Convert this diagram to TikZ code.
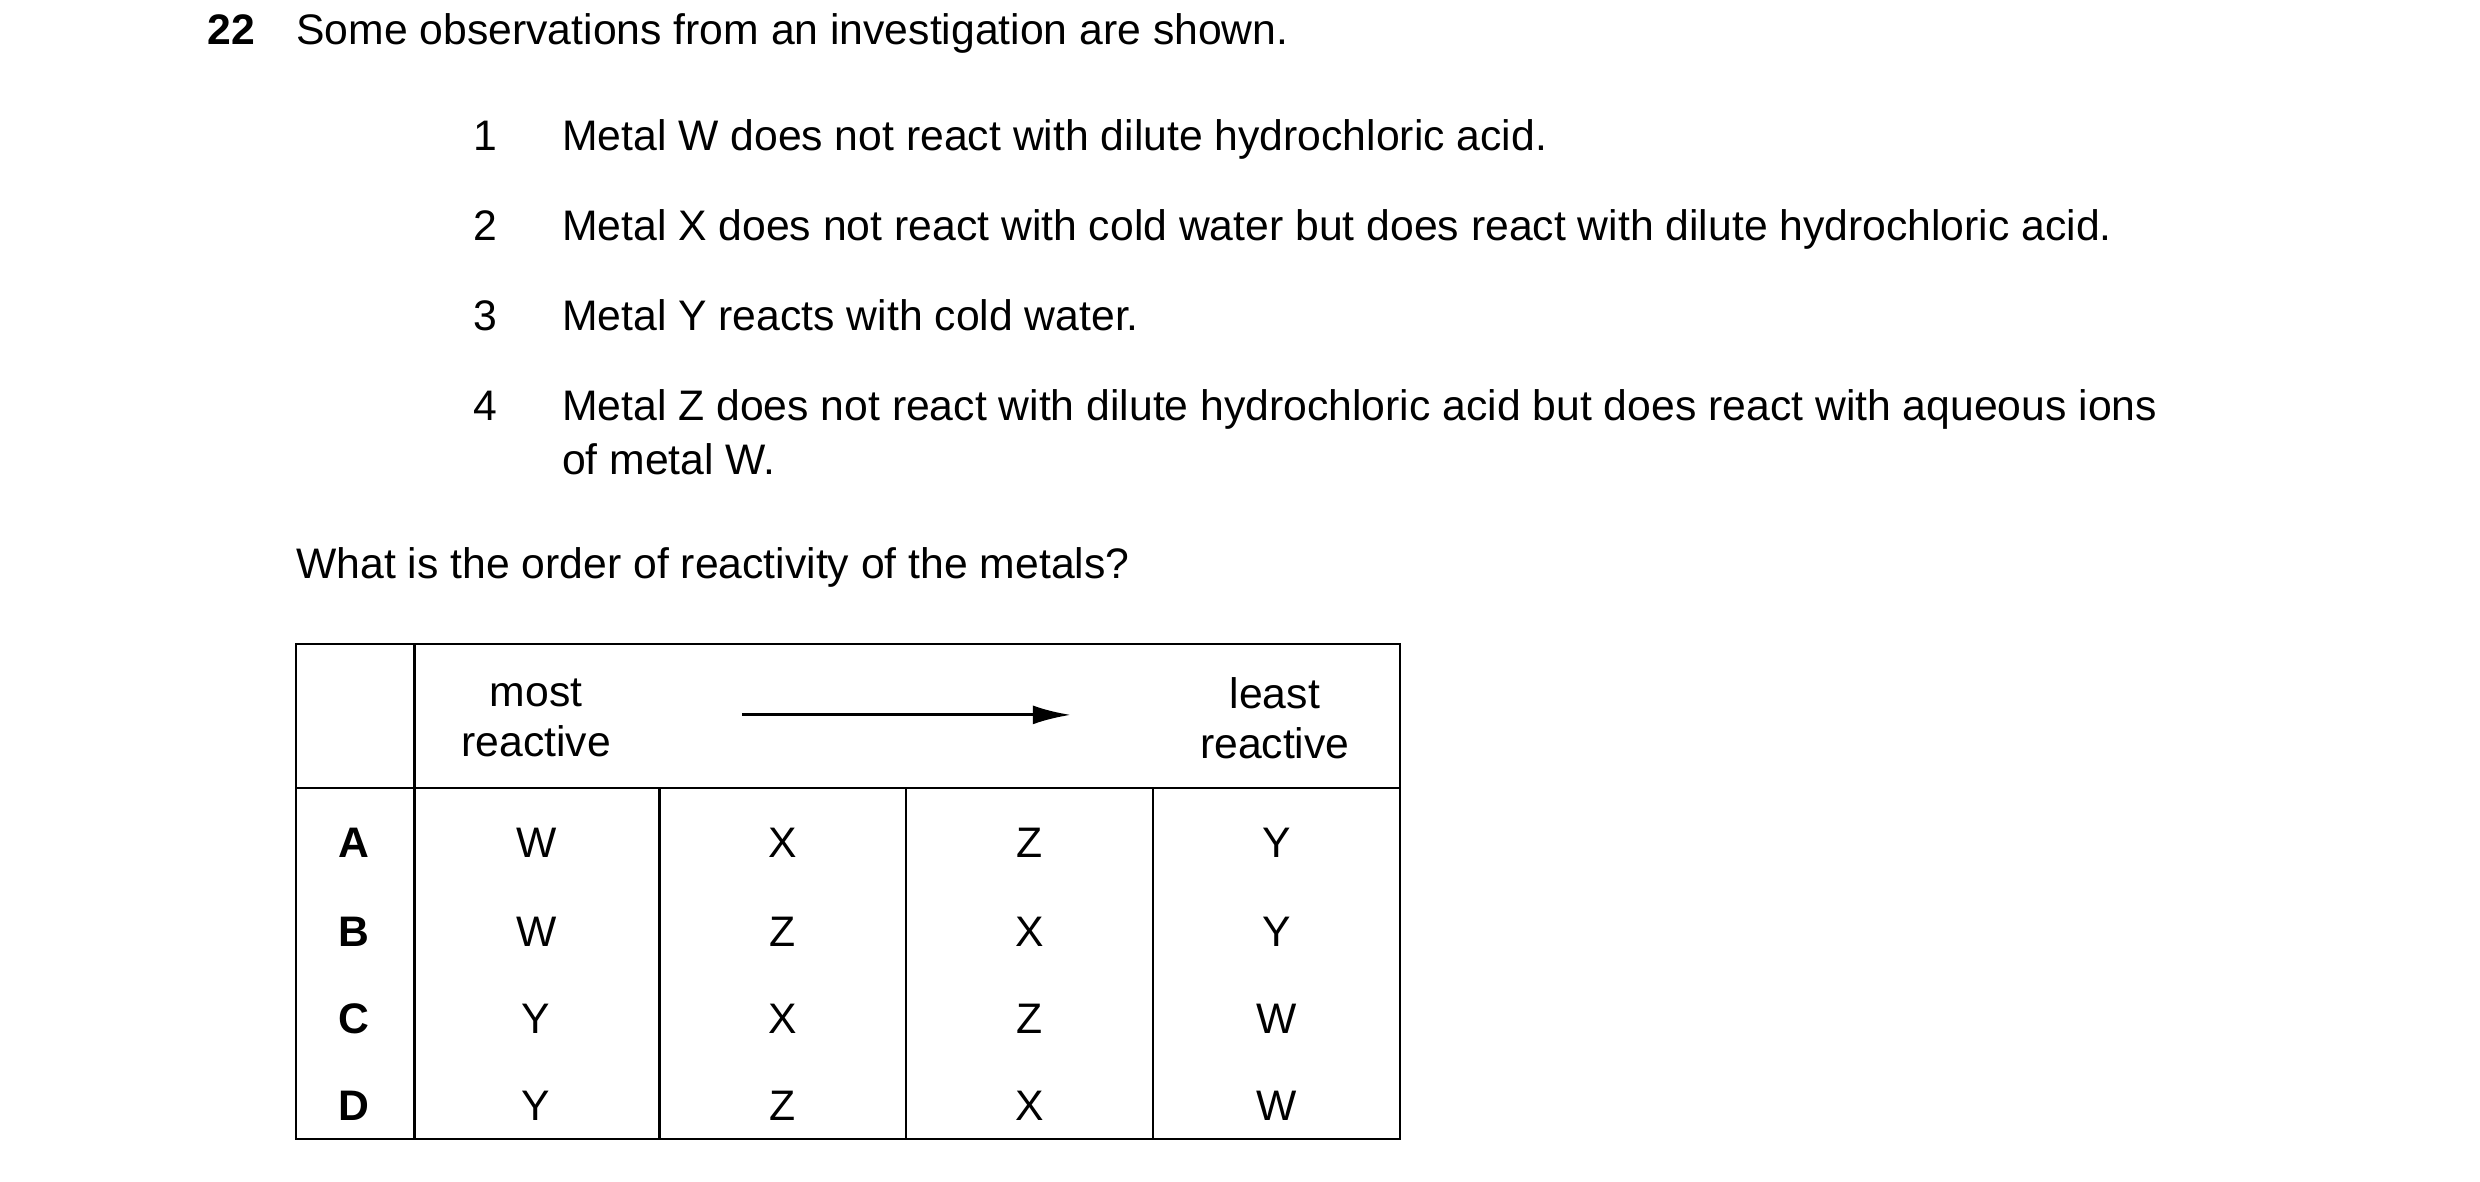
\documentclass[tikz,border=0pt]{standalone}
\usepackage{fontspec}
\setmainfont{Liberation Sans}
\usetikzlibrary{arrows.meta}
\begin{document}
\begin{tikzpicture}[x=0.5pt,y=-0.5pt,
 t/.style={anchor=base west,inner sep=0pt,font=\fontsize{13.5pt}{16pt}\selectfont},
 c/.style={anchor=center,inner sep=0pt,font=\fontsize{13.5pt}{16pt}\selectfont},
 ln/.style={line width=0.7pt}]
\useasboundingbox (0,0) rectangle (1568,747);
\node[t,font=\bfseries\fontsize{13.5pt}{16pt}\selectfont] (n22) at (131,28) {22};
\node[t] (q) at (187,28) {Some observations from an investigation are shown.};
\foreach \n/\yy/\txt in {1/95/{Metal W does not react with dilute hydrochloric acid.},
 2/152/{Metal X does not react with cold water but does react with dilute hydrochloric acid.},
 3/209/{Metal Y reacts with cold water.},
 4/266/{Metal Z does not react with dilute hydrochloric acid but does react with aqueous ions}}{
 \node[t] (num\n) at (299,\yy) {\n};
 \node[t] (it\n) at (355,\yy) {\txt};
}
\node[t] (it4b) at (355,300) {of metal W.};
\node[t] (qq) at (187,366) {What is the order of reactivity of the metals?};
\draw[ln] (187,407) rectangle (885,720);
\draw[ln] (187,498) -- (885,498);
\draw[ln] (262,407) -- (262,720);
\foreach \xx in {417,573,729} \draw[ln] (\xx,498) -- (\xx,720);
\node[c,align=center] (most) at (339,454) {most\\reactive};
\node[c,align=center] (least) at (806,454) {least\\reactive};
\coordinate (a1) at (469,452); \coordinate (a2) at (677,452);
\draw[line width=1pt,-{Latex[length=12pt,width=6pt]}] (a1) -- (a2);
\foreach \L/\yy/\a/\b/\cc/\d in {A/533/W/X/Z/Y,B/589/W/Z/X/Y,C/644/Y/X/Z/W,D/699/Y/Z/X/W}{
 \node[c,font=\bfseries\fontsize{13.5pt}{16pt}\selectfont] (r\L) at (224,\yy) {\L};
 \node[c] (r\L1) at (339,\yy) {\a};
 \node[c] (r\L2) at (495,\yy) {\b};
 \node[c] (r\L3) at (651,\yy) {\cc};
 \node[c] (r\L4) at (807,\yy) {\d};
}
\end{tikzpicture}
\end{document}
